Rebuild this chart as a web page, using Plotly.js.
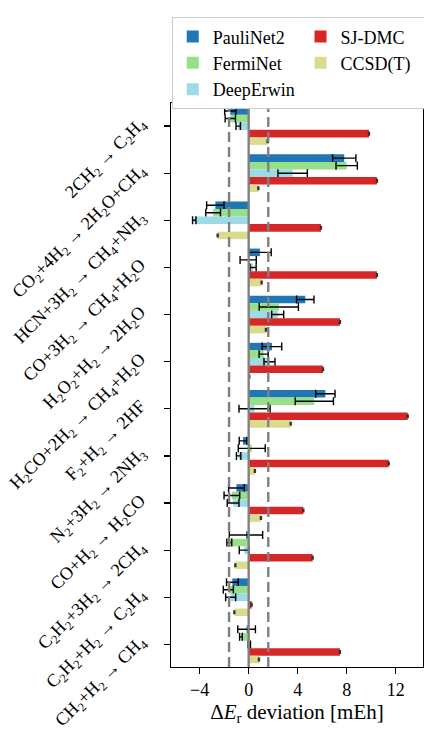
<!DOCTYPE html>
<html>
<head>
<meta charset="utf-8">
<script src="https://cdn.plot.ly/plotly-3.0.1.min.js"></script>
<style>html,body{margin:0;padding:0;background:#fff;}#chart{width:424px;height:729px;}</style>
</head>
<body>
<div id="chart"></div>
<script>
const reactions = [
  "2CH<sub>2</sub> → C<sub>2</sub>H<sub>4</sub>",
  "CO<sub>2</sub>+4H<sub>2</sub> → 2H<sub>2</sub>O+CH<sub>4</sub>",
  "HCN+3H<sub>2</sub> → CH<sub>4</sub>+NH<sub>3</sub>",
  "CO+3H<sub>2</sub> → CH<sub>4</sub>+H<sub>2</sub>O",
  "H<sub>2</sub>O<sub>2</sub>+H<sub>2</sub> → 2H<sub>2</sub>O",
  "H<sub>2</sub>CO+2H<sub>2</sub> → CH<sub>4</sub>+H<sub>2</sub>O",
  "F<sub>2</sub>+H<sub>2</sub> → 2HF",
  "N<sub>2</sub>+3H<sub>2</sub> → 2NH<sub>3</sub>",
  "CO+H<sub>2</sub> → H<sub>2</sub>CO",
  "C<sub>2</sub>H<sub>2</sub>+3H<sub>2</sub> → 2CH<sub>4</sub>",
  "C<sub>2</sub>H<sub>2</sub>+H<sub>2</sub> → C<sub>2</sub>H<sub>4</sub>",
  "CH<sub>2</sub>+H<sub>2</sub> → CH<sub>4</sub>"
];

const pauliNet2    = [-1.50, 7.80, -2.72, 0.92, 4.62, 1.90, 6.26, -0.46, -1.00, -0.22, -1.33, -0.17];
const pauliNet2Err = [0.46, 0.95, 0.71, 0.92, 0.71, 0.80, 0.79, 0.31, 0.64, 1.36, 0.48, 0.72];
const fermiNet     = [-1.50, 8.00, -2.90, -0.04, 2.46, 1.22, 5.36, 0.25, -1.37, -1.58, -1.66, -0.63];
const fermiNetErr  = [0.42, 0.87, 0.60, 0.66, 1.60, 0.37, 1.56, 1.10, 0.64, 0.20, 0.41, 0.11];
const deepErwin    = [-0.85, 3.59, -4.44, 0.36, 2.37, 1.70, 0.48, -0.82, -1.27, -0.36, -1.47, 0.05];
const deepErwinErr = [0.18, 1.20, 0.14, 0.25, 0.49, 0.45, 1.27, 0.18, 0.48, 0.41, 0.41, 0.10];
const sjDmc        = [9.82, 10.47, 5.90, 10.47, 7.45, 6.07, 12.98, 11.43, 4.46, 5.22, 0.24, 7.45];
const sjDmcErr     = [0.04, 0.04, 0.04, 0.04, 0.04, 0.04, 0.04, 0.04, 0.04, 0.04, 0.04, 0.04];
const ccsdT        = [1.55, 0.79, -2.53, 1.06, 1.41, 0.05, 3.43, 0.51, 1.00, -1.09, -1.17, 0.84];
const ccsdTErr     = [0.04, 0.04, 0.04, 0.04, 0.04, 0.04, 0.04, 0.04, 0.04, 0.04, 0.04, 0.04];
const chemicalAccuracy = 1.6;
const xTicks = [-4, 0, 4, 8, 12];

const FONT = "Liberation Serif, Times New Roman, DejaVu Serif, serif";

function barTrace(name, vals, errs, color, rank, errColor, errWidth) {
  return {
    type: "bar", orientation: "h", name: name,
    x: vals, y: reactions,
    marker: {color: color, line: {width: 0}},
    legendrank: rank,
    error_x: {type: "data", array: errs, visible: true, color: errColor, thickness: 1.4, width: errWidth},
    hoverinfo: "x+name"
  };
}

const data = [
  barTrace("PauliNet2", pauliNet2, pauliNet2Err, "#1f77b4", 1, "#000", 4),
  barTrace("FermiNet", fermiNet, fermiNetErr, "#98df8a", 3, "#000", 4),
  barTrace("DeepErwin", deepErwin, deepErwinErr, "#9edae5", 5, "#000", 4),
  barTrace("SJ-DMC", sjDmc, sjDmcErr, "#d62728", 2, "#333", 2),
  barTrace("CCSD(T)", ccsdT, ccsdTErr, "#dbdb8d", 4, "#333", 2)
];

const vline = (x, dash) => ({
  type: "line", xref: "x", yref: "paper", x0: x, x1: x, y0: 0, y1: 1,
  line: {color: "#808080", width: 2.4, dash: dash}, layer: "above"
});

const layout = {
  width: 424, height: 729,
  margin: {l: 171, r: 1, t: 103, b: 62, autoexpand: false},
  paper_bgcolor: "#fff", plot_bgcolor: "#fff",
  font: {family: FONT, size: 18, color: "#000"},
  barmode: "group", bargap: 0.2, bargroupgap: 0,
  showlegend: true,
  legend: {
    orientation: "h", x: 0.003, xanchor: "left", y: 1.152, yanchor: "top",
    entrywidth: 0.507, entrywidthmode: "fraction",
    bgcolor: "#fff", bordercolor: "#cccccc", borderwidth: 1,
    font: {family: FONT, size: 18, color: "#000"},
    traceorder: "normal"
  },
  xaxis: {
    range: [-6.34, 14.23], tickvals: xTicks,
    ticks: "outside", ticklen: 6, tickwidth: 1.3, tickcolor: "#000",
    showline: true, linecolor: "#000", linewidth: 1.3, mirror: true,
    showgrid: false, zeroline: false,
    tickfont: {family: FONT, size: 18},
    title: {text: "Δ<i>E</i><sub>r</sub> deviation [mEh]", font: {family: FONT, size: 21}, standoff: 4}
  },
  yaxis: {
    type: "category", range: [11.48, -0.49],
    ticks: "outside", ticklen: 6, tickwidth: 1.3, tickcolor: "#000",
    showline: true, linecolor: "#000", linewidth: 1.3, mirror: true,
    showgrid: false, zeroline: false,
    tickangle: -45,
    ticklabelstandoff: 20,
    ticklabelshift: 5,
    tickfont: {family: FONT, size: 18}
  },
  shapes: [vline(-chemicalAccuracy, "10px,5px"), vline(chemicalAccuracy, "10px,5px"), vline(0, "solid")]
};

Plotly.newPlot("chart", data, layout, {displayModeBar: false, staticPlot: true});
</script>
</body>
</html>
